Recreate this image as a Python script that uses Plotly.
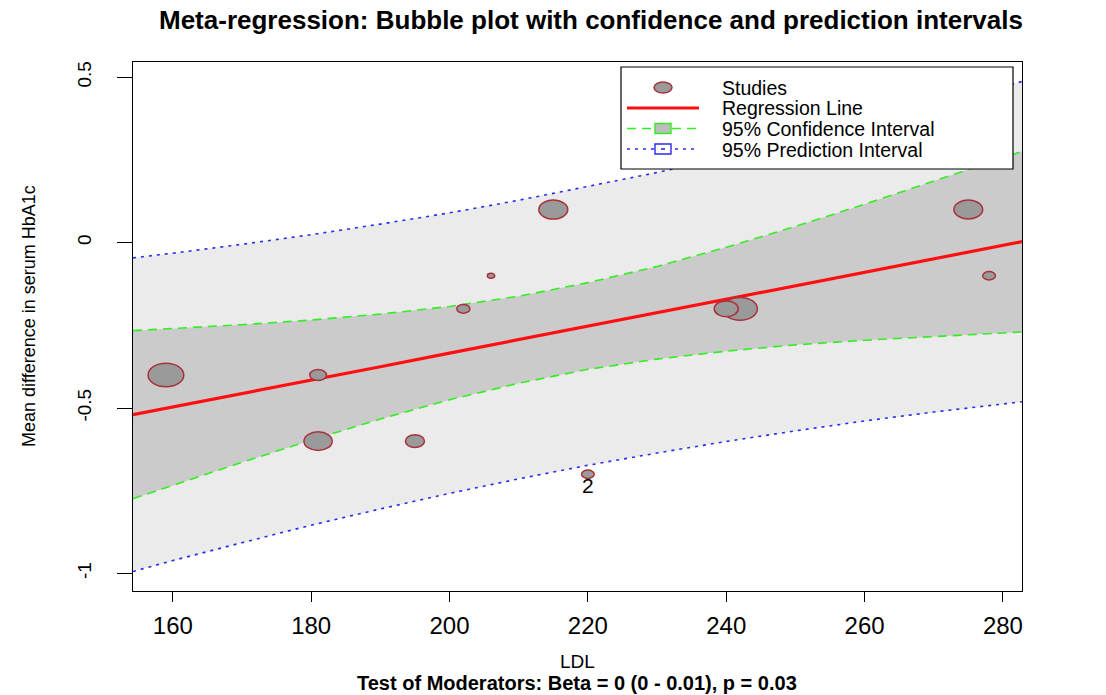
import plotly.graph_objects as go
import math

# ---------------- data ----------------
ldl = [159, 181, 181, 195, 202, 206, 215, 220, 240, 242, 275, 278]
md_hba1c = [-0.4, -0.4, -0.6, -0.6, -0.2, -0.1, 0.1, -0.7, -0.2, -0.2, 0.1, -0.1]
weights = [19.0, 4.2, 11.9, 5.4, 2.6, 0.8, 12.5, 2.4, 8.6, 17.9, 12.3, 2.4]
study_labels = ["", "", "", "", "", "", "", "2", "", "", "", ""]

grid_x = [154.24, 160, 170, 180, 190, 200, 210, 220, 230, 240, 250, 260, 270, 280, 282.76]
reg_y = [-0.520, -0.497, -0.456, -0.415, -0.375, -0.334, -0.293, -0.252, -0.212, -0.171,
         -0.130, -0.090, -0.049, -0.008, 0.003]
ci_lo = [-0.774, -0.733, -0.664, -0.597, -0.533, -0.475, -0.425, -0.383, -0.352, -0.328,
         -0.309, -0.295, -0.283, -0.273, -0.270]
ci_hi = [-0.266, -0.260, -0.248, -0.234, -0.216, -0.193, -0.162, -0.121, -0.072, -0.014,
         0.049, 0.116, 0.185, 0.256, 0.276]
pi_lo = [-0.994, -0.961, -0.907, -0.854, -0.805, -0.758, -0.714, -0.673, -0.636, -0.601,
         -0.569, -0.539, -0.512, -0.488, -0.481]
pi_hi = [-0.046, -0.032, -0.005, 0.024, 0.056, 0.090, 0.128, 0.169, 0.212, 0.259,
         0.308, 0.360, 0.415, 0.471, 0.487]

x_ticks = [160, 180, 200, 220, 240, 260, 280]
y_ticks = [-1, -0.5, 0, 0.5]
y_tick_text = ["-1", "-0.5", "0", "0.5"]

title_text = "Meta-regression: Bubble plot with confidence and prediction intervals"
x_title = "LDL"
sub_title = "Test of Moderators: Beta = 0 (0 - 0.01), p = 0.03"
y_title = "Mean difference in serum HbA1c"
legend_labels = ["Studies", "Regression Line", "95% Confidence Interval", "95% Prediction Interval"]

# ---------------- styling / layout ----------------
W, H = 1106, 695
ML, MR, MT, MB = 133, 84, 62, 104
PW, PH = W - ML - MR, H - MT - MB
FONT = "Liberation Sans, Arial, Helvetica, sans-serif"
BUB_FILL = "#9a9a9a"
BUB_LINE = "#a8323c"
PI_FILL = "#ebebeb"
CI_FILL = "#cbcbcb"
GREEN = "#33ee22"
BLUE = "#2a2aee"
RED = "#ff1010"
ASPECT = 1.52


def fx(px):
    return (px - ML) / PW


def fy(py):
    return (H - MB - py) / PH


fig = go.Figure()

# prediction interval band
fig.add_trace(go.Scatter(x=grid_x + grid_x[::-1], y=pi_hi + pi_lo[::-1], fill="toself",
                         fillcolor=PI_FILL, line=dict(width=0), mode="lines",
                         hoverinfo="skip", showlegend=False))
# confidence interval band
fig.add_trace(go.Scatter(x=grid_x + grid_x[::-1], y=ci_hi + ci_lo[::-1], fill="toself",
                         fillcolor=CI_FILL, line=dict(width=0), mode="lines",
                         hoverinfo="skip", showlegend=False))
# interval lines
for yy in (pi_lo, pi_hi):
    fig.add_trace(go.Scatter(x=grid_x, y=yy, mode="lines",
                             line=dict(color=BLUE, width=1.6, dash="3px,5px"),
                             showlegend=False, hoverinfo="skip"))
for yy in (ci_lo, ci_hi):
    fig.add_trace(go.Scatter(x=grid_x, y=yy, mode="lines",
                             line=dict(color=GREEN, width=1.6, dash="9px,6px"),
                             showlegend=False, hoverinfo="skip"))
# regression line
fig.add_trace(go.Scatter(x=grid_x, y=reg_y, mode="lines", line=dict(color=RED, width=3.2),
                         showlegend=False, hoverinfo="skip"))
# invisible hover points for studies
fig.add_trace(go.Scatter(x=ldl, y=md_hba1c, mode="markers", marker=dict(size=1, opacity=0),
                         showlegend=False))

shapes = []
order = sorted(range(len(ldl)), key=lambda i: -weights[i])
for i in order:
    w = 8.19 * math.sqrt(weights[i])
    h = w / ASPECT
    shapes.append(dict(type="circle", xref="x", yref="y", xsizemode="pixel", ysizemode="pixel",
                       xanchor=ldl[i], yanchor=md_hba1c[i], x0=-w / 2, x1=w / 2,
                       y0=-h / 2, y1=h / 2, fillcolor=BUB_FILL,
                       line=dict(color=BUB_LINE, width=1.5), layer="above"))

annotations = []
for i, lab in enumerate(study_labels):
    if lab:
        annotations.append(dict(x=ldl[i], y=md_hba1c[i], xref="x", yref="y", text=lab,
                                showarrow=False, yshift=-11,
                                font=dict(family=FONT, size=21, color="black")))

# ---------------- manual legend ----------------
lg_left, lg_right, lg_top, lg_bot = 621, 1013, 67, 169
shapes.append(dict(type="rect", xref="paper", yref="paper", x0=fx(lg_left), x1=fx(lg_right),
                   y0=fy(lg_bot), y1=fy(lg_top), fillcolor="white",
                   line=dict(color="black", width=1.2), layer="above"))
rows = [87.5, 108, 128.5, 149]
sx0, sx1, sxc = 627, 699, 663
# Studies
shapes.append(dict(type="circle", xref="paper", yref="paper", x0=fx(sxc - 9), x1=fx(sxc + 9),
                   y0=fy(rows[0] + 5.5), y1=fy(rows[0] - 5.5), fillcolor=BUB_FILL,
                   line=dict(color=BUB_LINE, width=1.5), layer="above"))
# Regression line
shapes.append(dict(type="line", xref="paper", yref="paper", x0=fx(sx0), x1=fx(sx1),
                   y0=fy(rows[1]), y1=fy(rows[1]), line=dict(color=RED, width=3.2), layer="above"))
# CI
shapes.append(dict(type="line", xref="paper", yref="paper", x0=fx(sx0), x1=fx(sx1),
                   y0=fy(rows[2]), y1=fy(rows[2]),
                   line=dict(color=GREEN, width=1.6, dash="9px,6px"), layer="above"))
shapes.append(dict(type="rect", xref="paper", yref="paper", x0=fx(sxc - 8), x1=fx(sxc + 8),
                   y0=fy(rows[2] + 5), y1=fy(rows[2] - 5), fillcolor="#bdbdbd",
                   line=dict(color=GREEN, width=1.4), layer="above"))
# PI
shapes.append(dict(type="line", xref="paper", yref="paper", x0=fx(sx0), x1=fx(sx1),
                   y0=fy(rows[3]), y1=fy(rows[3]),
                   line=dict(color=BLUE, width=1.6, dash="3px,5px"), layer="above"))
shapes.append(dict(type="rect", xref="paper", yref="paper", x0=fx(sxc - 8), x1=fx(sxc + 8),
                   y0=fy(rows[3] + 5), y1=fy(rows[3] - 5), fillcolor="white",
                   line=dict(color=BLUE, width=1.4), layer="above"))
shapes.append(dict(type="line", xref="paper", yref="paper", x0=fx(sxc - 2), x1=fx(sxc + 2),
                   y0=fy(rows[3]), y1=fy(rows[3]),
                   line=dict(color=BLUE, width=1.6), layer="above"))
for r, lab in zip(rows, legend_labels):
    annotations.append(dict(x=fx(720), y=fy(r + 0.5), xref="paper", yref="paper", text=lab,
                            xanchor="left", yanchor="middle", showarrow=False,
                            font=dict(family=FONT, size=19.5, color="black")))

# ---------------- titles ----------------
annotations.append(dict(x=fx(591), y=fy(20), xref="paper", yref="paper",
                        text="<b>" + title_text + "</b>", showarrow=False,
                        xanchor="center", yanchor="middle",
                        font=dict(family=FONT, size=26, color="black")))
annotations.append(dict(x=fx(577), y=fy(661), xref="paper", yref="paper", text=x_title,
                        showarrow=False, xanchor="center", yanchor="middle",
                        font=dict(family=FONT, size=19, color="black")))
annotations.append(dict(x=fx(577), y=fy(683), xref="paper", yref="paper",
                        text="<b>" + sub_title + "</b>", showarrow=False,
                        xanchor="center", yanchor="middle",
                        font=dict(family=FONT, size=20, color="black")))
annotations.append(dict(x=fx(29), y=fy(316), xref="paper", yref="paper", text=y_title,
                        textangle=-90, showarrow=False, xanchor="center", yanchor="middle",
                        font=dict(family=FONT, size=18, color="black")))

fig.update_layout(
    width=W, height=H, autosize=False,
    margin=dict(l=ML, r=MR, t=MT, b=MB),
    paper_bgcolor="white", plot_bgcolor="white",
    showlegend=False, shapes=shapes, annotations=annotations,
    font=dict(family=FONT, color="black"),
    xaxis=dict(range=[154.24, 282.76], tickvals=x_ticks, ticks="outside", ticklen=10,
               tickwidth=1, tickcolor="black", showline=True, mirror=True, linecolor="black",
               linewidth=1.2, showgrid=False, zeroline=False, ticklabelstandoff=3,
               tickfont=dict(family=FONT, size=24, color="black")),
    yaxis=dict(range=[-1.053, 0.546], tickvals=y_ticks, ticktext=y_tick_text, tickangle=-90,
               ticks="outside", ticklen=15, tickwidth=1, tickcolor="black", showline=True,
               mirror=True, linecolor="black", linewidth=1.2, showgrid=False, zeroline=False,
               ticklabelstandoff=18, tickfont=dict(family=FONT, size=19, color="black")),
)

fig.write_html("out.html")
